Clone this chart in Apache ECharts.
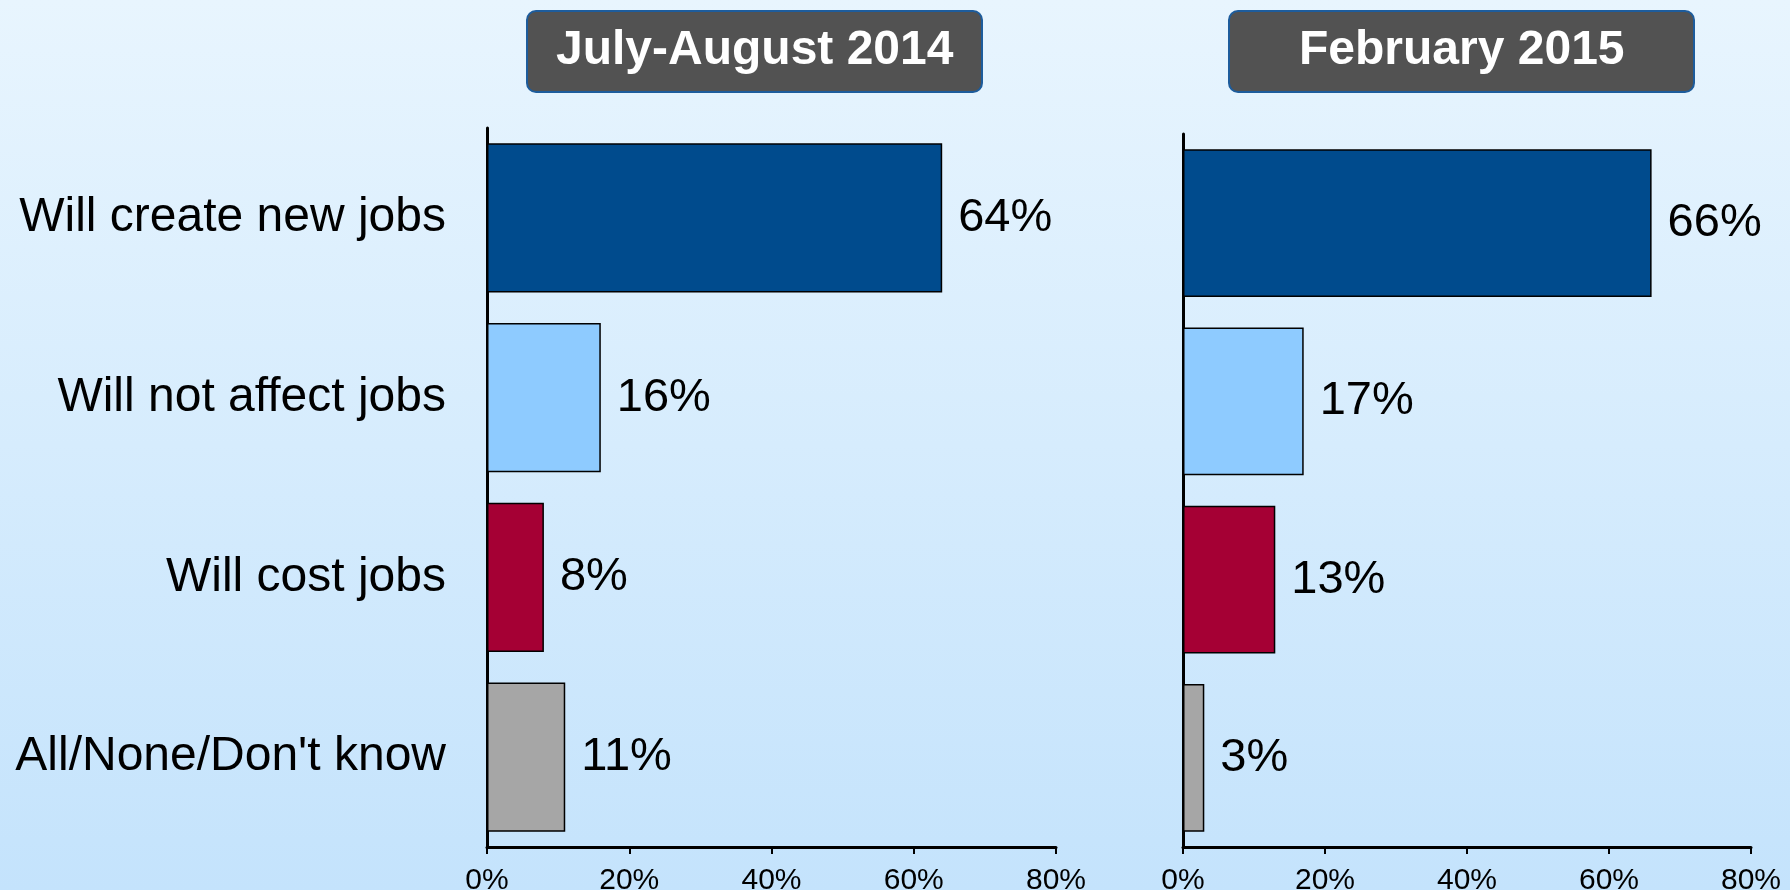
<!DOCTYPE html>
<html lang="en">
<head>
    <meta charset="utf-8">
    <title>Jobs</title>
    <script src="https://cdn.jsdelivr.net/npm/echarts@6.0.0/dist/echarts.min.js"></script>
    <style>
        html, body { margin: 0; padding: 0; }
        #main { width: 1790px; height: 890px; }
    </style>
</head>
<body>
<div id="main"></div>

<script type="text/javascript">
    var categories = ['Will create new jobs', 'Will not affect jobs', 'Will cost jobs', "All/None/Don't know"];
    var julyAugust2014 = [64, 16, 8, 11];
    var february2015 = [66, 17, 13, 3];
    var periods = ['July-August 2014', 'February 2015'];
    var barColors = ['#004b8d', '#8ecbff', '#a50034', '#a6a6a6'];
    var ticks = [0, 20, 40, 60, 80];

    var font = 'Liberation Sans, Arial, sans-serif';
    var myChart = echarts.init(document.getElementById('main'));

    function makeData(values) {
        return values.map(function (v, i) {
            return { value: v, itemStyle: { color: barColors[i] } };
        });
    }

    function xAxisFor(gridIndex) {
        return {
            type: 'value',
            gridIndex: gridIndex,
            min: ticks[0],
            max: ticks[ticks.length - 1],
            interval: ticks[1] - ticks[0],
            splitLine: { show: false },
            axisLine: { show: true, lineStyle: { color: '#000', width: 3 } },
            axisTick: { show: true, length: 7, lineStyle: { color: '#000', width: 2 } },
            axisLabel: {
                formatter: '{value}%',
                color: '#000',
                fontSize: 30,
                fontFamily: font,
                margin: 19
            }
        };
    }

    function yAxisFor(gridIndex, showLabels) {
        return {
            type: 'category',
            gridIndex: gridIndex,
            data: categories,
            inverse: true,
            axisLine: { show: true, lineStyle: { color: '#000', width: 3 } },
            axisTick: { show: false },
            axisLabel: {
                show: showLabels,
                color: '#000',
                fontSize: 48,
                fontFamily: font,
                margin: 41
            }
        };
    }

    function titleBox(text, left, padX) {
        return {
            text: text,
            left: left,
            top: 11,
            padding: [16, padX, 17, padX],
            backgroundColor: '#525252',
            borderColor: '#1d5c9c',
            borderWidth: 2,
            borderRadius: 9,
            textStyle: {
                color: '#fff',
                fontSize: 48,
                fontWeight: 'bold',
                fontFamily: font
            }
        };
    }

    function barSeries(values, index) {
        return {
            type: 'bar',
            xAxisIndex: index,
            yAxisIndex: index,
            data: makeData(values),
            barCategoryGap: '17%',
            itemStyle: { borderColor: '#000', borderWidth: 1.5 },
            label: {
                show: true,
                position: 'right',
                distance: 16,
                formatter: '{c}%',
                color: '#000',
                fontSize: 47,
                fontFamily: font
            }
        };
    }

    var option = {
        backgroundColor: {
            type: 'linear', x: 0, y: 0, x2: 0, y2: 1,
            colorStops: [
                { offset: 0, color: '#e8f5fe' },
                { offset: 1, color: '#c4e3fc' }
            ]
        },
        animation: false,
        title: [
            titleBox(periods[0], 527, 29),
            titleBox(periods[1], 1229, 70)
        ],
        grid: [
            { left: 487, right: 734, top: 128, bottom: 43, outerBoundsMode: 'none' },
            { left: 1183, right: 39, top: 134, bottom: 43, outerBoundsMode: 'none' }
        ],
        xAxis: [xAxisFor(0), xAxisFor(1)],
        yAxis: [yAxisFor(0, true), yAxisFor(1, false)],
        series: [
            barSeries(julyAugust2014, 0),
            barSeries(february2015, 1)
        ]
    };

    myChart.setOption(option);
</script>
</body>
</html>
